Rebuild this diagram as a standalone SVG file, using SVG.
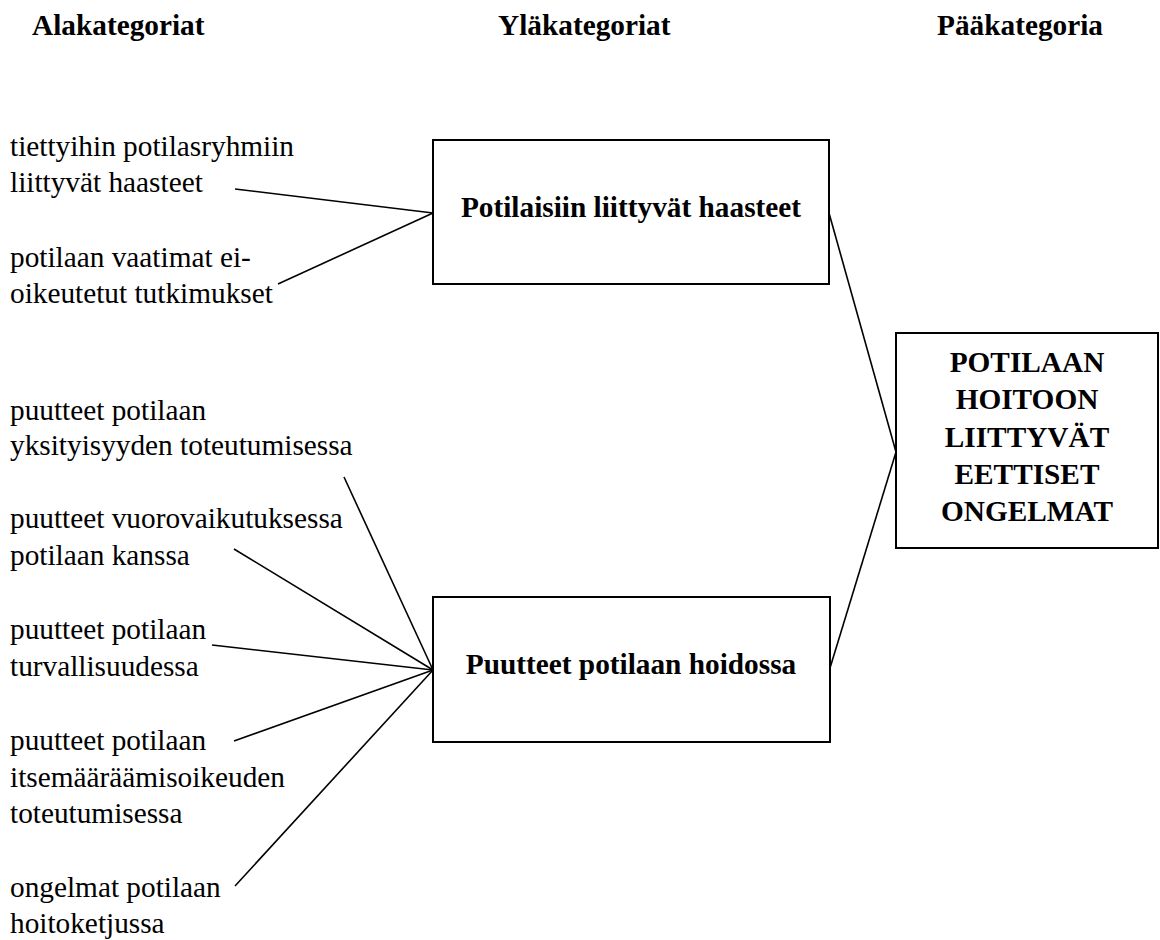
<svg xmlns="http://www.w3.org/2000/svg" width="1160" height="940" viewBox="0 0 1160 940">
  <style>
    .t { font-family: "Liberation Serif", "Times New Roman", serif; font-size: 29.3px; fill: #000; }
    .b { font-weight: bold; }
    .box { fill: #fff; stroke: #000; stroke-width: 2; }
    .ln { stroke: #000; stroke-width: 1.6; fill: none; }
  </style>
  <rect width="1160" height="940" fill="#fff"/>

  <!-- column headings -->
  <g id="headings">
    <text class="t b" x="32" y="35">Alakategoriat</text>
    <text class="t b" x="498" y="35">Yläkategoriat</text>
    <text class="t b" x="937" y="35">Pääkategoria</text>
  </g>

  <!-- connectors -->
  <g id="connectors">
    <line class="ln" x1="235" y1="189" x2="433" y2="213"/>
    <line class="ln" x1="278" y1="284" x2="433" y2="213"/>
    <line class="ln" x1="344" y1="477" x2="433" y2="670"/>
    <line class="ln" x1="234" y1="549" x2="433" y2="670"/>
    <line class="ln" x1="212" y1="645" x2="433" y2="670"/>
    <line class="ln" x1="234" y1="741" x2="433" y2="670"/>
    <line class="ln" x1="235" y1="886" x2="433" y2="670"/>
    <line class="ln" x1="829" y1="213" x2="896" y2="452"/>
    <line class="ln" x1="830" y1="668" x2="896" y2="452"/>
  </g>

  <!-- subcategories -->
  <g id="sub-1">
    <text class="t" x="10" y="156">tiettyihin potilasryhmiin</text>
    <text class="t" x="10" y="192">liittyvät haasteet</text>
  </g>
  <g id="sub-2">
    <text class="t" x="10" y="267">potilaan vaatimat ei-</text>
    <text class="t" x="10" y="303">oikeutetut tutkimukset</text>
  </g>
  <g id="sub-3">
    <text class="t" x="10" y="420">puutteet potilaan</text>
    <text class="t" x="10" y="455">yksityisyyden toteutumisessa</text>
  </g>
  <g id="sub-4">
    <text class="t" x="10" y="528">puutteet vuorovaikutuksessa</text>
    <text class="t" x="10" y="565">potilaan kanssa</text>
  </g>
  <g id="sub-5">
    <text class="t" x="10" y="639">puutteet potilaan</text>
    <text class="t" x="10" y="676">turvallisuudessa</text>
  </g>
  <g id="sub-6">
    <text class="t" x="10" y="750">puutteet potilaan</text>
    <text class="t" x="10" y="787">itsemääräämisoikeuden</text>
    <text class="t" x="10" y="823">toteutumisessa</text>
  </g>
  <g id="sub-7">
    <text class="t" x="10" y="897">ongelmat potilaan</text>
    <text class="t" x="10" y="933">hoitoketjussa</text>
  </g>

  <!-- upper categories -->
  <g id="upper-1">
    <rect class="box" x="433" y="140" width="396" height="144"/>
    <text class="t b" x="631" y="217" text-anchor="middle">Potilaisiin liittyvät haasteet</text>
  </g>
  <g id="upper-2">
    <rect class="box" x="433" y="597" width="397" height="145"/>
    <text class="t b" x="631" y="674" text-anchor="middle">Puutteet potilaan hoidossa</text>
  </g>

  <!-- main category -->
  <g id="main">
    <rect class="box" x="896" y="333" width="262" height="215"/>
    <text class="t b" x="1027" y="372" text-anchor="middle">POTILAAN</text>
    <text class="t b" x="1027" y="409" text-anchor="middle">HOITOON</text>
    <text class="t b" x="1027" y="447" text-anchor="middle">LIITTYVÄT</text>
    <text class="t b" x="1027" y="484" text-anchor="middle">EETTISET</text>
    <text class="t b" x="1027" y="521" text-anchor="middle">ONGELMAT</text>
  </g>
</svg>
